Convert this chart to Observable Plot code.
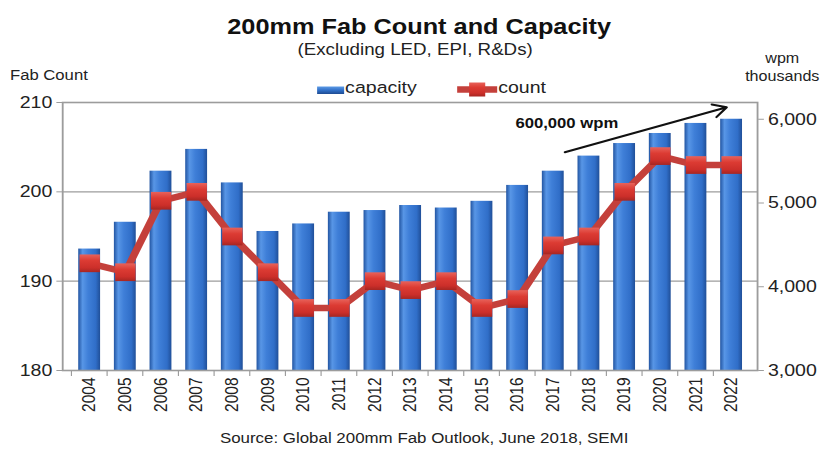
<!DOCTYPE html>
<html>
<head>
<meta charset="utf-8">
<script src="https://cdn.jsdelivr.net/npm/d3@7"></script>
<script src="https://cdn.jsdelivr.net/npm/@observablehq/plot@0.6"></script>
<style>
  html, body { margin: 0; padding: 0; background: #fff; }
  #chart svg { display: block; }
</style>
</head>
<body>
<div id="chart"></div>
<script>
// 200mm fab count (left axis) and capacity in thousand wafers per month (right axis)
const years = ["2004", "2005", "2006", "2007", "2008", "2009", "2010", "2011", "2012", "2013",
               "2014", "2015", "2016", "2017", "2018", "2019", "2020", "2021", "2022"];
const capacity = [4450, 4770, 5380, 5640, 5240, 4660, 4750, 4890, 4910, 4970,
                  4940, 5020, 5210, 5380, 5560, 5710, 5830, 5950, 6000];
const fabCount = [192, 191, 199, 200, 195, 191, 187, 187, 190, 189,
                  190, 187, 188, 194, 195, 200, 204, 203, 203];
const countTicks = [180, 190, 200, 210];
const capacityTicks = [3000, 4000, 5000, 6000];

// The capacity axis spans 3,000–6,200 over the same height as 180–210 fabs
const countDomain = [180, 210];
const capDomain = [3000, 6200];
const capToCount = c => countDomain[0] + (c - capDomain[0]) * (countDomain[1] - countDomain[0]) / (capDomain[1] - capDomain[0]);
const countToCap = v => capDomain[0] + (v - countDomain[0]) * (capDomain[1] - capDomain[0]) / (countDomain[1] - countDomain[0]);

const data = years.map((year, i) => ({year, capacity: capacity[i], count: fabCount[i]}));

// Drawn in a slightly narrower coordinate space and widened to the page
const W = 826, H = 452, K = 1.15;
const W0 = Math.round(W / K);
const mL = 54, mR = W0 - 658, mT = 102, mB = 82;
const step = (W0 - mL - mR) / years.length;
const FONT = 'Arial, "Liberation Sans", Helvetica, sans-serif';
const GRID = "#9c9c9c";

const gradients = () => {
  const defs = d3.create("svg:defs");
  const bar = defs.append("linearGradient").attr("id", "capGrad")
    .attr("x1", 0).attr("x2", 1).attr("y1", 0).attr("y2", 0);
  [[0, "#2255a2"], [0.2, "#5896e6"], [0.45, "#3f7fd8"], [0.8, "#306ec8"], [1, "#204f98"]]
    .forEach(([o, c]) => bar.append("stop").attr("offset", o).attr("stop-color", c));
  const sw = defs.append("linearGradient").attr("id", "capGradV")
    .attr("x1", 0).attr("x2", 0).attr("y1", 0).attr("y2", 1);
  [[0, "#5d9be6"], [0.5, "#3170c8"], [1, "#1d4b92"]]
    .forEach(([o, c]) => sw.append("stop").attr("offset", o).attr("stop-color", c));
  const mk = defs.append("linearGradient").attr("id", "cntGrad")
    .attr("x1", 0).attr("x2", 0).attr("y1", 0).attr("y2", 1);
  [[0, "#e8625a"], [0.35, "#dc3b33"], [0.75, "#cc2f2a"], [1, "#a62622"]]
    .forEach(([o, c]) => mk.append("stop").attr("offset", o).attr("stop-color", c));
  return defs.node();
};

const chart = Plot.plot({
  width: W0,
  height: H,
  marginTop: mT,
  marginBottom: mB,
  marginLeft: mL,
  marginRight: mR,
  style: {fontFamily: FONT, background: "#fff", color: "#222"},
  x: {domain: years, paddingInner: 0.4, paddingOuter: 0.2, label: null},
  y: {domain: countDomain, label: null},
  marks: [
    gradients,
    Plot.gridY(countTicks.slice(1, -1), {stroke: GRID, strokeOpacity: 1, strokeWidth: 1.4}),
    Plot.barY(data, {x: "year", y1: countDomain[0], y2: d => capToCount(d.capacity), fill: "url(#capGrad)"}),
    Plot.frame({stroke: GRID, strokeWidth: 1.6}),
    Plot.axisY({ticks: countTicks, anchor: "left", tickSize: 5, tickPadding: 4, fontSize: 17,
                stroke: GRID, fill: "#222", label: null}),
    Plot.axisY({ticks: capacityTicks.map(capToCount), anchor: "right", tickSize: 5, tickPadding: 4, fontSize: 17,
                stroke: GRID, fill: "#222", label: null,
                tickFormat: v => d3.format(",")(Math.round(countToCap(v)))}),
    Plot.axisX({tickSize: 6, tickFormat: () => "", dx: -step / 2, stroke: GRID, label: null}),
    Plot.axisX({tickSize: 0, tickPadding: 7, tickRotate: -90, fontSize: 15.5, fill: "#222", label: null}),
    Plot.lineY(data, {x: "year", y: "count", stroke: "#c4403b", strokeWidth: 6.5, strokeLinejoin: "round"}),
    Plot.dot(data, {x: "year", y: "count", symbol: "square", r: 10, fill: "url(#cntGrad)", stroke: "none"}),
    Plot.text(["600,000 wpm"], {x: () => "2016", y: () => 207.7, text: d => d, textAnchor: "start", dx: -2,
                fontSize: 14.5, fontWeight: "bold", fill: "#111"}),
    Plot.arrow([0], {x1: () => "2017", x2: () => "2022", y1: () => 204.43, y2: () => 209.98,
                dx: 10, insetEnd: 15, stroke: "#111", strokeWidth: 2, headLength: 10})
  ]
});

// Stretch the drawing across the full page width
chart.setAttribute("width", W);
chart.setAttribute("height", H);
chart.setAttribute("preserveAspectRatio", "none");
chart.style.width = W + "px";
chart.style.height = H + "px";
chart.style.maxWidth = "none";

const svg = d3.select(chart);
const label = (x, y, text, size, opts = {}) =>
  svg.append("text").attr("x", x).attr("y", y).text(text)
    .attr("font-family", FONT).attr("font-size", size)
    .attr("fill", opts.fill || "#222")
    .attr("font-weight", opts.weight || "normal")
    .attr("text-anchor", opts.anchor || "start");

label(419 / K, 34, "200mm Fab Count and Capacity", 22, {weight: "bold", anchor: "middle", fill: "#111"});
label(415 / K, 55.5, "(Excluding LED, EPI, R&Ds)", 16.3, {anchor: "middle"});
label(10 / K, 80, "Fab Count", 14.5);
label(782 / K, 63, "wpm", 14, {anchor: "middle"});
label(782 / K, 81, "thousands", 14, {anchor: "middle"});
label(424 / K, 443, "Source: Global 200mm Fab Outlook, June 2018, SEMI", 14.7, {anchor: "middle"});

// Legend
svg.append("rect").attr("x", 317 / K).attr("y", 86.5).attr("width", 27 / K).attr("height", 7.5)
  .attr("fill", "url(#capGradV)");
label(345 / K, 93, "capacity", 17);
svg.append("line").attr("x1", 457 / K).attr("x2", 497 / K).attr("y1", 89.5).attr("y2", 89.5)
  .attr("stroke", "#c4403b").attr("stroke-width", 6.5);
svg.append("rect").attr("x", 477 / K - 7).attr("y", 82.5).attr("width", 14).attr("height", 14)
  .attr("fill", "url(#cntGrad)");
label(498 / K, 93, "count", 17);

document.getElementById("chart").appendChild(chart);
</script>
</body>
</html>
